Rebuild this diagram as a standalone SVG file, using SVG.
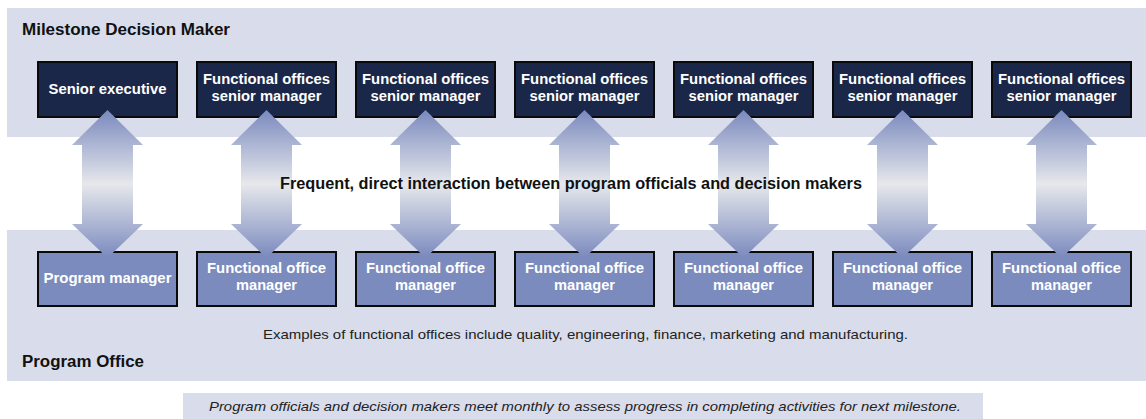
<svg xmlns="http://www.w3.org/2000/svg" width="1146" height="419" viewBox="0 0 1146 419">
<defs>
<linearGradient id="ag" x1="0" y1="0" x2="0" y2="1">
<stop offset="0" stop-color="#7a89bd"/>
<stop offset="0.5" stop-color="#e6e8ec"/>
<stop offset="1" stop-color="#7a89bd"/>
</linearGradient>
<style>
.band{fill:#d9dcea}
.top{fill:#1b2748;stroke:#0a0a0a;stroke-width:2}
.bot{fill:#7b8bbd;stroke:#0a0a0a;stroke-width:2}
.bt{font-family:"Liberation Sans",Arial,sans-serif;font-weight:bold;font-size:14.5px;fill:#fff;text-anchor:middle}
.hd{font-family:"Liberation Sans",Arial,sans-serif;font-weight:bold;font-size:16px;fill:#111}
.note{font-family:"Liberation Sans",Arial,sans-serif;font-size:13px;fill:#222}
.cap{font-family:"Liberation Sans",Arial,sans-serif;font-size:13px;font-style:italic;fill:#222}
.arr{fill:url(#ag)}
</style>
</defs>
<rect width="1146" height="419" fill="#fff"/>
<rect class="band" x="7" y="8" width="1139" height="129"/>
<rect class="band" x="7" y="230" width="1139" height="151"/>
<rect class="band" x="183" y="393" width="800" height="26"/>
<text class="hd" x="22" y="35" textLength="208" lengthAdjust="spacingAndGlyphs">Milestone Decision Maker</text>
<text class="hd" x="22" y="367" textLength="122" lengthAdjust="spacingAndGlyphs">Program Office</text>
<text class="note" x="263" y="339" textLength="645" lengthAdjust="spacingAndGlyphs">Examples of functional offices include quality, engineering, finance, marketing and manufacturing.</text>
<text class="cap" x="209" y="411" textLength="752" lengthAdjust="spacingAndGlyphs">Program officials and decision makers meet monthly to assess progress in completing activities for next milestone.</text>

<g id="senior-executive"><rect class="top" x="38" y="62" width="139" height="55"/><text class="bt" x="107.5" y="94" textLength="118" lengthAdjust="spacingAndGlyphs">Senior executive</text></g>
<g id="fo-senior-1"><rect class="top" x="197" y="62" width="139" height="55"/><text class="bt" x="266.5" y="84" textLength="127" lengthAdjust="spacingAndGlyphs">Functional offices</text><text class="bt" x="266.5" y="101" textLength="110" lengthAdjust="spacingAndGlyphs">senior manager</text></g>
<g id="fo-senior-2"><rect class="top" x="356" y="62" width="139" height="55"/><text class="bt" x="425.5" y="84" textLength="127" lengthAdjust="spacingAndGlyphs">Functional offices</text><text class="bt" x="425.5" y="101" textLength="110" lengthAdjust="spacingAndGlyphs">senior manager</text></g>
<g id="fo-senior-3"><rect class="top" x="515" y="62" width="139" height="55"/><text class="bt" x="584.5" y="84" textLength="127" lengthAdjust="spacingAndGlyphs">Functional offices</text><text class="bt" x="584.5" y="101" textLength="110" lengthAdjust="spacingAndGlyphs">senior manager</text></g>
<g id="fo-senior-4"><rect class="top" x="674" y="62" width="139" height="55"/><text class="bt" x="743.5" y="84" textLength="127" lengthAdjust="spacingAndGlyphs">Functional offices</text><text class="bt" x="743.5" y="101" textLength="110" lengthAdjust="spacingAndGlyphs">senior manager</text></g>
<g id="fo-senior-5"><rect class="top" x="833" y="62" width="139" height="55"/><text class="bt" x="902.5" y="84" textLength="127" lengthAdjust="spacingAndGlyphs">Functional offices</text><text class="bt" x="902.5" y="101" textLength="110" lengthAdjust="spacingAndGlyphs">senior manager</text></g>
<g id="fo-senior-6"><rect class="top" x="992" y="62" width="139" height="55"/><text class="bt" x="1061.5" y="84" textLength="127" lengthAdjust="spacingAndGlyphs">Functional offices</text><text class="bt" x="1061.5" y="101" textLength="110" lengthAdjust="spacingAndGlyphs">senior manager</text></g>

<g id="program-manager"><rect class="bot" x="38" y="252" width="139" height="54"/><text class="bt" x="107.5" y="283" textLength="128" lengthAdjust="spacingAndGlyphs">Program manager</text></g>
<g id="fo-manager-1"><rect class="bot" x="197" y="252" width="139" height="54"/><text class="bt" x="266.5" y="273" textLength="119" lengthAdjust="spacingAndGlyphs">Functional office</text><text class="bt" x="266.5" y="290" textLength="61" lengthAdjust="spacingAndGlyphs">manager</text></g>
<g id="fo-manager-2"><rect class="bot" x="356" y="252" width="139" height="54"/><text class="bt" x="425.5" y="273" textLength="119" lengthAdjust="spacingAndGlyphs">Functional office</text><text class="bt" x="425.5" y="290" textLength="61" lengthAdjust="spacingAndGlyphs">manager</text></g>
<g id="fo-manager-3"><rect class="bot" x="515" y="252" width="139" height="54"/><text class="bt" x="584.5" y="273" textLength="119" lengthAdjust="spacingAndGlyphs">Functional office</text><text class="bt" x="584.5" y="290" textLength="61" lengthAdjust="spacingAndGlyphs">manager</text></g>
<g id="fo-manager-4"><rect class="bot" x="674" y="252" width="139" height="54"/><text class="bt" x="743.5" y="273" textLength="119" lengthAdjust="spacingAndGlyphs">Functional office</text><text class="bt" x="743.5" y="290" textLength="61" lengthAdjust="spacingAndGlyphs">manager</text></g>
<g id="fo-manager-5"><rect class="bot" x="833" y="252" width="139" height="54"/><text class="bt" x="902.5" y="273" textLength="119" lengthAdjust="spacingAndGlyphs">Functional office</text><text class="bt" x="902.5" y="290" textLength="61" lengthAdjust="spacingAndGlyphs">manager</text></g>
<g id="fo-manager-6"><rect class="bot" x="992" y="252" width="139" height="54"/><text class="bt" x="1061.5" y="273" textLength="119" lengthAdjust="spacingAndGlyphs">Functional office</text><text class="bt" x="1061.5" y="290" textLength="61" lengthAdjust="spacingAndGlyphs">manager</text></g>

<g id="connectors">
<path class="arr" d="M107.5 110 L143 145 L133 145 L133 224 L143 224 L107.5 258 L72 224 L82 224 L82 145 L72 145 Z"/>
<path class="arr" d="M266.5 110 L302 145 L292 145 L292 224 L302 224 L266.5 258 L231 224 L241 224 L241 145 L231 145 Z"/>
<path class="arr" d="M425.5 110 L461 145 L451 145 L451 224 L461 224 L425.5 258 L390 224 L400 224 L400 145 L390 145 Z"/>
<path class="arr" d="M584.5 110 L620 145 L610 145 L610 224 L620 224 L584.5 258 L549 224 L559 224 L559 145 L549 145 Z"/>
<path class="arr" d="M743.5 110 L779 145 L769 145 L769 224 L779 224 L743.5 258 L708 224 L718 224 L718 145 L708 145 Z"/>
<path class="arr" d="M902.5 110 L938 145 L928 145 L928 224 L938 224 L902.5 258 L867 224 L877 224 L877 145 L867 145 Z"/>
<path class="arr" d="M1061.5 110 L1097 145 L1087 145 L1087 224 L1097 224 L1061.5 258 L1026 224 L1036 224 L1036 145 L1026 145 Z"/>
</g>
<text id="interaction-label" class="hd" x="280" y="189" textLength="582" lengthAdjust="spacingAndGlyphs">Frequent, direct interaction between program officials and decision makers</text>
</svg>
